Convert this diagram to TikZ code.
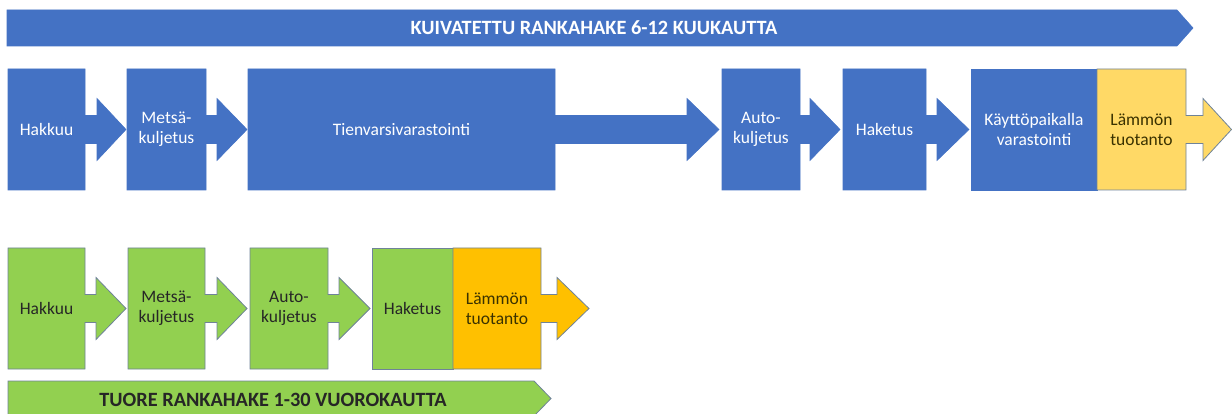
\documentclass[tikz,border=0pt]{standalone}
\usepackage{fontspec}
\setmainfont{Carlito}
\usetikzlibrary{positioning}

\definecolor{boxblue}{HTML}{4472C4}
\definecolor{boxgreen}{HTML}{92D050}
\definecolor{boxyellow}{HTML}{FFD966}
\definecolor{boxorange}{HTML}{FFC000}
\definecolor{edgegray}{HTML}{6F8399}
\definecolor{darktext}{HTML}{3A3200}

% box with a block arrow on its right side
\newcommand{\arrowstage}[8]{%
  \filldraw[#2] (#3,\rowtop) -- (#4,\rowtop) -- (#4,\rowmid-14) -- (#5,\rowmid-14)
    -- (#5,\rowmid-31) -- (#6,\rowmid) -- (#5,\rowmid+31) -- (#5,\rowmid+14)
    -- (#4,\rowmid+14) -- (#4,\rowbot) -- (#3,\rowbot) -- cycle;
  \node[#8] (#1) at ({(#3+#4)/2},\rowmid) {#7};
}
% box without arrow
\newcommand{\plainstage}[6]{%
  \filldraw[#2] (#3,\rowtop) rectangle (#4,\rowbot);
  \node[#6] (#1) at ({(#3+#4)/2},\rowmid) {#5};
}

\begin{document}
\begin{tikzpicture}[
    x=1pt, y=-1pt,
    every node/.style={
        align=center,
        inner sep=0pt,
        font=\fontsize{17.5}{20}\selectfont
    },
    bluestage/.style={fill=boxblue, draw=boxblue, line width=0.6pt},
    yellowstage/.style={fill=boxyellow, draw=edgegray, line width=0.8pt},
    greenstage/.style={fill=boxgreen, draw=edgegray, line width=0.8pt},
    orangestage/.style={fill=boxorange, draw=edgegray, line width=0.8pt},
    lighttext/.style={text=white},
    darktext/.style={text=black!85},
    warmtext/.style={text=darktext},
    bannertext/.style={anchor=base, font=\fontsize{20.3}{24}\selectfont\bfseries}
]
\useasboundingbox (0,0) rectangle (1232,414);
\clip (0,0) rectangle (1232,414);

% dried chain
\filldraw[bluestage] (7,10) -- (1177,10) -- (1193,28) -- (1177,46) -- (7,46) -- cycle;
\node[bannertext, lighttext] (kuivatettu) at (594,35) {KUIVATETTU RANKAHAKE 6-12 KUUKAUTTA};

\def\rowtop{69}\def\rowbot{190}\def\rowmid{129.5}
\arrowstage{hakkuu1}{bluestage}{8}{85}{97}{126}{Hakkuu}{lighttext}
\arrowstage{metsa1}{bluestage}{127}{206}{217}{247}{Metsä-\\kuljetus}{lighttext}
\arrowstage{tienvarsi}{bluestage}{248}{555}{687}{719}{Tienvarsivarastointi}{lighttext}
\arrowstage{auto1}{bluestage}{722}{800}{810}{840}{Auto-\\kuljetus}{lighttext}
\arrowstage{haketus1}{bluestage}{843}{926}{937}{969}{Haketus}{lighttext}
\plainstage{kaytto}{bluestage}{971}{1097}{Käyttöpaikalla\\varastointi}{lighttext}
\arrowstage{lammon1}{yellowstage}{1097}{1186}{1203}{1231.5}{Lämmön\\tuotanto}{warmtext}

% fresh chain
\def\rowtop{248}\def\rowbot{369}\def\rowmid{308.5}
\arrowstage{hakkuu2}{greenstage}{8}{85}{96}{126}{Hakkuu}{darktext}
\arrowstage{metsa2}{greenstage}{128}{205}{217}{247}{Metsä-\\kuljetus}{darktext}
\arrowstage{auto2}{greenstage}{250}{328}{339}{370}{Auto-\\kuljetus}{darktext}
\plainstage{haketus2}{greenstage}{372}{453}{Haketus}{darktext}
\arrowstage{lammon2}{orangestage}{453}{541}{557}{589}{Lämmön\\tuotanto}{warmtext}

\filldraw[greenstage] (8,381) -- (534,381) -- (551,398.5) -- (534,416) -- (8,416) -- cycle;
\node[bannertext, darktext] (tuore) at (273,406.5) {TUORE RANKAHAKE 1-30 VUOROKAUTTA};
\end{tikzpicture}
\end{document}
